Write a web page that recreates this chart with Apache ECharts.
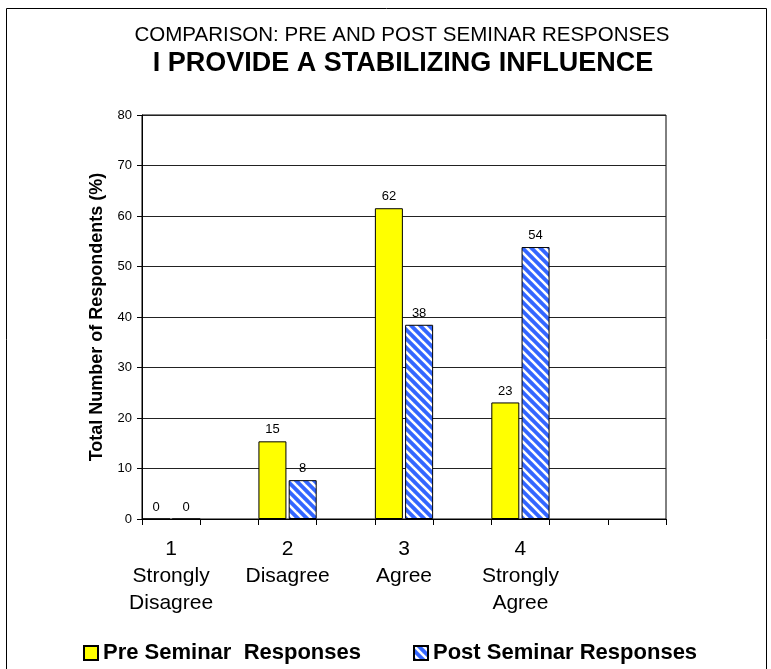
<!DOCTYPE html>
<html>
<head>
<meta charset="utf-8">
<script src="https://cdn.jsdelivr.net/npm/echarts@6/dist/echarts.min.js"></script>
<style>html,body{margin:0;padding:0;background:#fff;}#c{width:771px;height:669px;}</style>
</head>
<body>
<div id="c"></div>
<script>
// Data
const responseLabels = ['1\nStrongly\nDisagree', '2\nDisagree', '3\nAgree', '4\nStrongly\nAgree'];
const preSeminar = [0, 15.38, 61.54, 23.08];
const postSeminar = [0, 7.69, 38.46, 53.85];
const yTicks = [0, 10, 20, 30, 40, 50, 60, 70, 80];
const seriesNames = ['Pre Seminar  Responses', 'Post Seminar Responses'];

// spread categories with empty slots between them (as in the original chart)
const categories = [];
const preData = [];
const postData = [];
responseLabels.forEach((l, i) => {
  categories.push(l); preData.push(preSeminar[i]); postData.push(postSeminar[i]);
  categories.push(''); preData.push('-'); postData.push('-');
});
categories.push(''); preData.push('-'); postData.push('-');

// striped pattern
const T = 9;
const cv = document.createElement('canvas');
cv.width = T; cv.height = T;
const cx = cv.getContext('2d');
cx.fillStyle = '#3366FF';
cx.fillRect(0, 0, T, T);
cx.strokeStyle = '#FFFFFF';
cx.lineWidth = 2.6;
[-T, 0, T].forEach(o => {
  cx.beginPath();
  cx.moveTo(o - 1, -1);
  cx.lineTo(o + T + 1, T + 1);
  cx.stroke();
});

const chart = echarts.init(document.getElementById('c'));
const font = 'Liberation Sans, Arial, sans-serif';
chart.setOption({
  animation: false,
  textStyle: { fontFamily: font },
  title: [
    { text: 'COMPARISON: PRE AND POST SEMINAR RESPONSES', left: 397, top: 20, textAlign: 'center',
      textStyle: { fontSize: 20.5, fontWeight: 'normal', color: '#000', fontFamily: font } },
    { text: 'I PROVIDE A STABILIZING INFLUENCE', left: 398, top: 45, textAlign: 'center',
      textStyle: { fontSize: 27, fontWeight: 'bold', color: '#000', fontFamily: font } }
  ],
  legend: {
    left: 78, top: 637, itemWidth: 14, itemHeight: 14, itemGap: 52,
    icon: 'rect',
    textStyle: { fontSize: 22, fontWeight: 'bold', color: '#000', fontFamily: font },
    data: seriesNames
  },
  grid: { left: 142, right: 105, top: 115, bottom: 150, show: true, borderColor: '#000', borderWidth: 1 },
  xAxis: {
    type: 'category', data: categories,
    axisLine: { lineStyle: { color: '#000', width: 1 } },
    axisTick: { show: true, interval: 0, length: 6, lineStyle: { color: '#000' } },
    axisLabel: { interval: 0, fontSize: 21, lineHeight: 27, color: '#000', margin: 17, fontFamily: font }
  },
  yAxis: {
    type: 'value', min: 0, max: 80, interval: 10,
    name: 'Total Number of Respondents (%)', nameLocation: 'middle', nameGap: 36, nameRotate: 90,
    nameTextStyle: { fontSize: 18, fontWeight: 'bold', color: '#000', fontFamily: font },
    axisLine: { show: true, lineStyle: { color: '#000' } },
    axisTick: { show: true, length: 5, lineStyle: { color: '#000' } },
    axisLabel: { fontSize: 13, color: '#000', margin: 10, fontFamily: font },
    splitLine: { lineStyle: { color: '#222', width: 1 } }
  },
  series: [
    { name: seriesNames[0], type: 'bar', data: preData, barWidth: 28, barGap: '8%',
      itemStyle: { color: '#FFFF00', borderColor: '#000', borderWidth: 1 },
      label: { show: true, position: 'top', distance: 5, fontSize: 13, color: '#000', fontFamily: font,
               formatter: p => Math.round(p.value) } },
    { name: seriesNames[1], type: 'bar', data: postData, barWidth: 28,
      itemStyle: { color: { image: cv, repeat: 'repeat' }, borderColor: '#000', borderWidth: 1 },
      label: { show: true, position: 'top', distance: 5, fontSize: 13, color: '#000', fontFamily: font,
               formatter: p => Math.round(p.value) } }
  ],
  graphic: [
    { type: 'polyline', silent: true,
      shape: { points: [[6.5, 672], [6.5, 8.5], [766.5, 8.5], [766.5, 672]] },
      style: { fill: 'none', stroke: '#000', lineWidth: 1 } }
  ]
});
</script>
</body>
</html>
